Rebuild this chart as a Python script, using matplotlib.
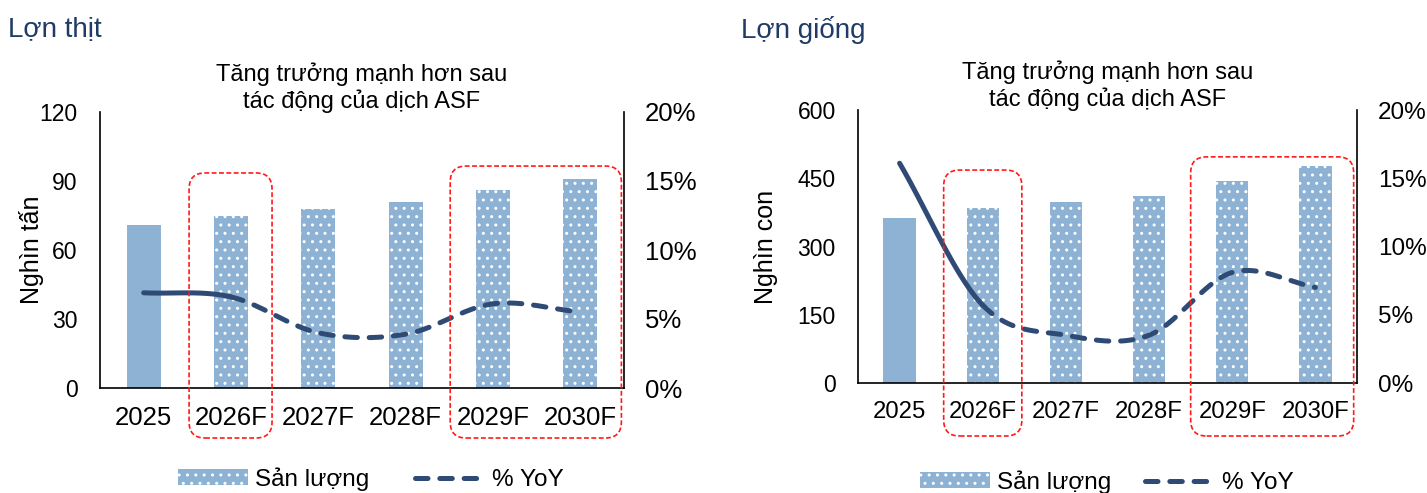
import numpy as np
import matplotlib
matplotlib.use("Agg")
import matplotlib.pyplot as plt
from matplotlib.patches import FancyBboxPatch, Patch
from matplotlib.lines import Line2D

plt.rcParams['font.family'] = ['Liberation Sans', 'DejaVu Sans']
plt.rcParams['hatch.linewidth'] = 1.0
plt.rcParams['lines.scale_dashes'] = False

# ---------------- data ----------------
categories = ["2025", "2026F", "2027F", "2028F", "2029F", "2030F"]

thit_output = [71, 75, 78, 81, 86, 91]          # nghìn tấn
thit_yoy = [6.9, 6.6, 4.0, 3.9, 6.1, 5.5]        # %

giong_output = [363, 385, 398, 411, 444, 477]   # nghìn con
giong_yoy = [16.1, 5.7, 3.5, 3.5, 8.1, 7.0]      # %

thit_ticks = [0, 30, 60, 90, 120]
giong_ticks = [0, 150, 300, 450, 600]
pct_ticks = [0, 5, 10, 15, 20]

panel_titles = ["Lợn thịt", "Lợn giống"]
sub_title = "Tăng trưởng mạnh hơn sau\ntác động của dịch ASF"
ylabels = ["Nghìn tấn", "Nghìn con"]
legend_labels = ["Sản lượng", "% YoY"]

BAR = '#8DB2D3'
LINE = '#2F4B75'
TITLE_C = '#1F3B66'

W, H = 1427, 493
fig = plt.figure(figsize=(W / 100, H / 100), dpi=100)


def px_axes(l, t, r, b):
    return fig.add_axes([l / W, 1 - b / H, (r - l) / W, (b - t) / H])


def catmull(xs, ys, n=40):
    xs = np.asarray(xs, float)
    ys = np.asarray(ys, float)
    P = np.column_stack([xs, ys])
    P = np.vstack([2 * P[0] - P[1], P, 2 * P[-1] - P[-2]])
    out = []
    seg_idx = []
    for i in range(1, len(P) - 2):
        p0, p1, p2, p3 = P[i - 1], P[i], P[i + 1], P[i + 2]
        t = np.linspace(0, 1, n)[:, None]
        c = 0.5 * ((2 * p1) + (-p0 + p2) * t + (2 * p0 - 5 * p1 + 4 * p2 - p3) * t ** 2
                   + (-p0 + 3 * p1 - 3 * p2 + p3) * t ** 3)
        out.append(c)
        seg_idx.append(np.full(n, i - 1))
    return np.vstack(out), np.concatenate(seg_idx)


def panel(axbox, values, yoy, yticks, ylabel, title, title_xy, sub_y, leg_xy, boxes,
          xfs, yfs, pfs, ylpad, colsp):
    ax = px_axes(*axbox)
    x = np.arange(len(categories))
    ymax = yticks[-1]
    ax.bar(x[:1], values[:1], width=0.39, color=BAR, linewidth=0)
    ax.bar(x[1:], values[1:], width=0.39, color=BAR, edgecolor='white',
           linewidth=0, hatch='..')
    ax.set_xlim(-0.5, len(categories) - 0.5)
    ax.set_ylim(0, ymax)
    ax.set_yticks(yticks)
    ax.set_xticks(x)
    ax.set_xticklabels(categories)
    ax.tick_params(axis='both', length=0)
    ax.tick_params(axis='x', pad=13, labelsize=xfs)
    ax.tick_params(axis='y', pad=16, labelsize=yfs)
    ax.spines['top'].set_visible(False)
    ax.spines['right'].set_visible(False)
    ax.spines['left'].set_linewidth(1.2)
    ax.spines['bottom'].set_linewidth(1.2)
    ax.set_ylabel(ylabel, fontsize=18, labelpad=ylpad)

    ax2 = ax.twinx()
    ax2.set_ylim(0, pct_ticks[-1])
    ax2.set_yticks(pct_ticks)
    ax2.set_yticklabels([f"{v}%" for v in pct_ticks])
    ax2.tick_params(axis='y', length=0, labelsize=pfs, pad=15)
    for s in ['top', 'left', 'bottom']:
        ax2.spines[s].set_visible(False)
    ax2.spines['right'].set_linewidth(1.2)

    curve, seg = catmull(x, yoy)
    solid = seg == 0
    ax2.plot(curve[solid, 0], curve[solid, 1], color=LINE, lw=3.6,
             solid_capstyle='round')
    dash = seg >= 1
    ax2.plot(curve[dash, 0], curve[dash, 1], color=LINE, lw=3.6,
             linestyle=(0, (9, 8.5)), dash_capstyle='round')

    # titles
    fig.text(title_xy[0] / W, 1 - title_xy[1] / H, title, fontsize=20,
             color=TITLE_C, ha='left', va='center')
    cx = (axbox[0] + axbox[2]) / 2
    fig.text(cx / W, 1 - sub_y / H, sub_title, fontsize=17, ha='center',
             va='center', linespacing=1.2)

    # legend
    handles = [Patch(facecolor=BAR, edgecolor='white', hatch='..', linewidth=0),
               Line2D([0], [0], color=LINE, lw=3.6, linestyle=(0, (9, 8.5)),
                      dash_capstyle='round')]
    fig.legend(handles, legend_labels, loc='center', ncol=2, frameon=False,
               bbox_to_anchor=(leg_xy[0] / W, 1 - leg_xy[1] / H), fontsize=17.5,
               handlelength=2.85, handleheight=0.6, handletextpad=0.3,
               columnspacing=colsp)

    # highlight boxes (rounded, red dashed)
    fig.canvas.draw()
    inv = fig.dpi_scale_trans.inverted()
    for (i0, i1, ytop, bottom_px) in boxes:
        p0 = ax.transData.transform((i0, ytop))
        p1 = ax.transData.transform((i1, 0))
        x0, x1 = p0[0], p1[0]
        y1 = p0[1]
        y0 = p1[1] - bottom_px
        a = inv.transform((x0, y0))
        b = inv.transform((x1, y1))
        patch = FancyBboxPatch((a[0], a[1]), b[0] - a[0], b[1] - a[1],
                               boxstyle='round,pad=0,rounding_size=0.16',
                               transform=fig.dpi_scale_trans, fill=False,
                               edgecolor='#FF1A1A', linewidth=1.2,
                               linestyle=(0, (3.5, 1.8)), clip_on=False)
        fig.add_artist(patch)
    return ax


panel((100, 112, 624, 388), thit_output, thit_yoy, thit_ticks, ylabels[0],
      panel_titles[0], (8, 30), 88, (371, 479),
      [(1 - 0.48, 1 + 0.47, 93.5, 50), (4 - 0.49, 5 + 0.47, 96.5, 50)],
      18.5, 16.5, 18.5, -3, 1.9)
panel((858, 110, 1357, 383), giong_output, giong_yoy, giong_ticks, ylabels[1],
      panel_titles[1], (741, 30), 86, (1107, 482),
      [(1 - 0.47, 1 + 0.47, 468, 53), (4 - 0.5, 5 + 0.46, 497, 53)],
      17.2, 16.5, 17.5, 14, 1.4)

fig.savefig("out.png", dpi=100)
